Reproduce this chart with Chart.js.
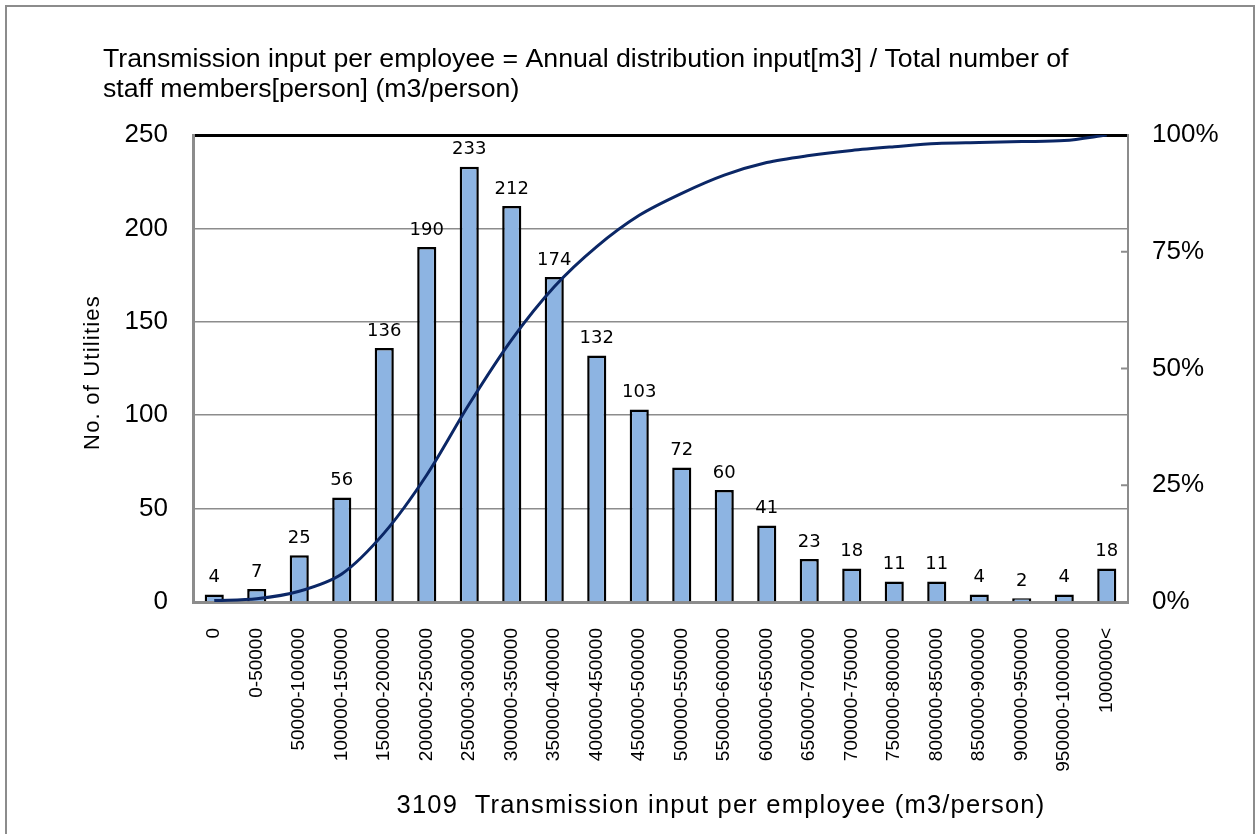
<!DOCTYPE html>
<html>
<head>
<meta charset="utf-8">
<script src="https://cdn.jsdelivr.net/npm/chart.js@4.4.1/dist/chart.umd.min.js"></script>
<style>
  body { margin: 0; background: #fff; }
  #wrap { position: relative; width: 1257px; height: 834px; overflow: hidden; }
  #frame { position: absolute; left: 5px; top: 5px; width: 1250px; height: 840px; border: 2px solid #8c8c8c; box-sizing: border-box; }
  #chart { position: absolute; left: 0; top: 0; }
</style>
</head>
<body>
<div id="wrap">
  <div id="frame"></div>
  <canvas id="chart" width="1257" height="834"></canvas>
</div>
<script>
// bins of transmission input per employee (m3/person)
const bins = ['0', '0-50000', '50000-100000', '100000-150000', '150000-200000', '200000-250000',
  '250000-300000', '300000-350000', '350000-400000', '400000-450000', '450000-500000',
  '500000-550000', '550000-600000', '600000-650000', '650000-700000', '700000-750000',
  '750000-800000', '800000-850000', '850000-900000', '900000-950000', '950000-1000000', '1000000<'];

// number of utilities in each bin
const utilities = [4, 7, 25, 56, 136, 190, 233, 212, 174, 132, 103, 72, 60, 41, 23, 18, 11, 11, 4, 2, 4, 18];

// cumulative share (%)
const cumulative = [0.3, 0.7, 2.3, 6.0, 14.8, 27.2, 42.4, 56.2, 67.5, 76.1, 82.8, 87.5, 91.4, 94.1,
  95.6, 96.7, 97.5, 98.2, 98.4, 98.6, 98.8, 100];

const leftTicks = [0, 50, 100, 150, 200, 250];
const rightTicks = [0, 25, 50, 75, 100];

const titleLines = ['Transmission input per employee = Annual distribution input[m3] / Total number of',
  'staff members[person] (m3/person)'];
const xTitle = '3109  Transmission input per employee (m3/person)';
const yTitle = 'No. of Utilities';

const FONT = '"Liberation Sans", Arial, sans-serif';

// titles, bar values and the small inner ticks of the right axis
const extras = {
  id: 'extras',
  afterDraw(chart) {
    const c = chart.ctx;
    const area = chart.chartArea;
    c.save();
    c.fillStyle = '#000';
    c.font = '26.7px ' + FONT;
    c.textAlign = 'left';
    c.textBaseline = 'alphabetic';
    c.fillText(titleLines[0], 103, 67);
    c.fillText(titleLines[1], 103, 97);

    c.textAlign = 'center';
    c.textBaseline = 'middle';
    c.font = '25.5px ' + FONT;
    c.letterSpacing = '1.2px';
    c.fillText(xTitle, 721, 806);

    c.save();
    c.translate(93, (area.top + area.bottom) / 2 + 4);
    c.rotate(-Math.PI / 2);
    c.font = '22px ' + FONT;
    c.fillText(yTitle, 0, 0);
    c.restore();
    c.letterSpacing = '0px';

    c.font = '18px "DejaVu Sans", sans-serif';
    c.textBaseline = 'bottom';
    const meta = chart.getDatasetMeta(1);
    meta.data.forEach((bar, i) => {
      c.fillText(utilities[i], bar.x, bar.y - 8);
    });

    const y1 = chart.scales.y1;
    c.strokeStyle = '#8c8c8c';
    c.lineWidth = 2;
    [25, 50, 75].forEach(v => {
      const y = y1.getPixelForValue(v);
      c.beginPath();
      c.moveTo(y1.left - 7, y);
      c.lineTo(y1.left, y);
      c.stroke();
    });
    c.restore();
  }
};

new Chart(document.getElementById('chart'), {
  data: {
    labels: bins,
    datasets: [
      {
        type: 'line',
        data: cumulative,
        yAxisID: 'y1',
        borderColor: '#0b2766',
        borderWidth: 3,
        pointRadius: 0,
        tension: 0.3,
        order: 0
      },
      {
        type: 'bar',
        data: utilities,
        yAxisID: 'y',
        backgroundColor: '#8db4e2',
        borderColor: '#000',
        borderWidth: 2.5,
        categoryPercentage: 1,
        barPercentage: 0.45,
        order: 1
      }
    ]
  },
  options: {
    responsive: false,
    animation: false,
    layout: { padding: { top: 135, left: 0, right: 0, bottom: 0 } },
    plugins: {
      legend: { display: false },
      tooltip: { enabled: false }
    },
    scales: {
      x: {
        grid: { display: false },
        border: { color: '#8c8c8c', width: 3 },
        ticks: {
          color: '#000',
          font: { family: FONT, size: 19 },
          minRotation: 90,
          maxRotation: 90,
          autoSkip: false,
          padding: 18
        },
        afterFit(s) { s.height = 232; }
      },
      y: {
        position: 'left',
        min: 0,
        max: 250,
        afterBuildTicks(s) { s.ticks = leftTicks.map(v => ({ value: v })); },
        grid: {
          drawTicks: false,
          color: ctx => ctx.tick && ctx.tick.value === 250 ? '#000' : '#8c8c8c',
          lineWidth: ctx => ctx.tick && ctx.tick.value === 250 ? 3 : 1.5
        },
        border: { color: '#8c8c8c', width: 3 },
        ticks: {
          color: '#000',
          font: { family: FONT, size: 26 },
          padding: 25
        },
        afterFit(s) { s.width = 193; }
      },
      y1: {
        position: 'right',
        min: 0,
        max: 100,
        afterBuildTicks(s) { s.ticks = rightTicks.map(v => ({ value: v })); },
        grid: { drawOnChartArea: false, drawTicks: false },
        border: { color: '#8c8c8c', width: 2 },
        ticks: {
          color: '#000',
          font: { family: FONT, size: 26 },
          padding: 24,
          callback: v => v + '%'
        },
        afterFit(s) { s.width = 129; }
      }
    }
  },
  plugins: [extras]
});
</script>
</body>
</html>
